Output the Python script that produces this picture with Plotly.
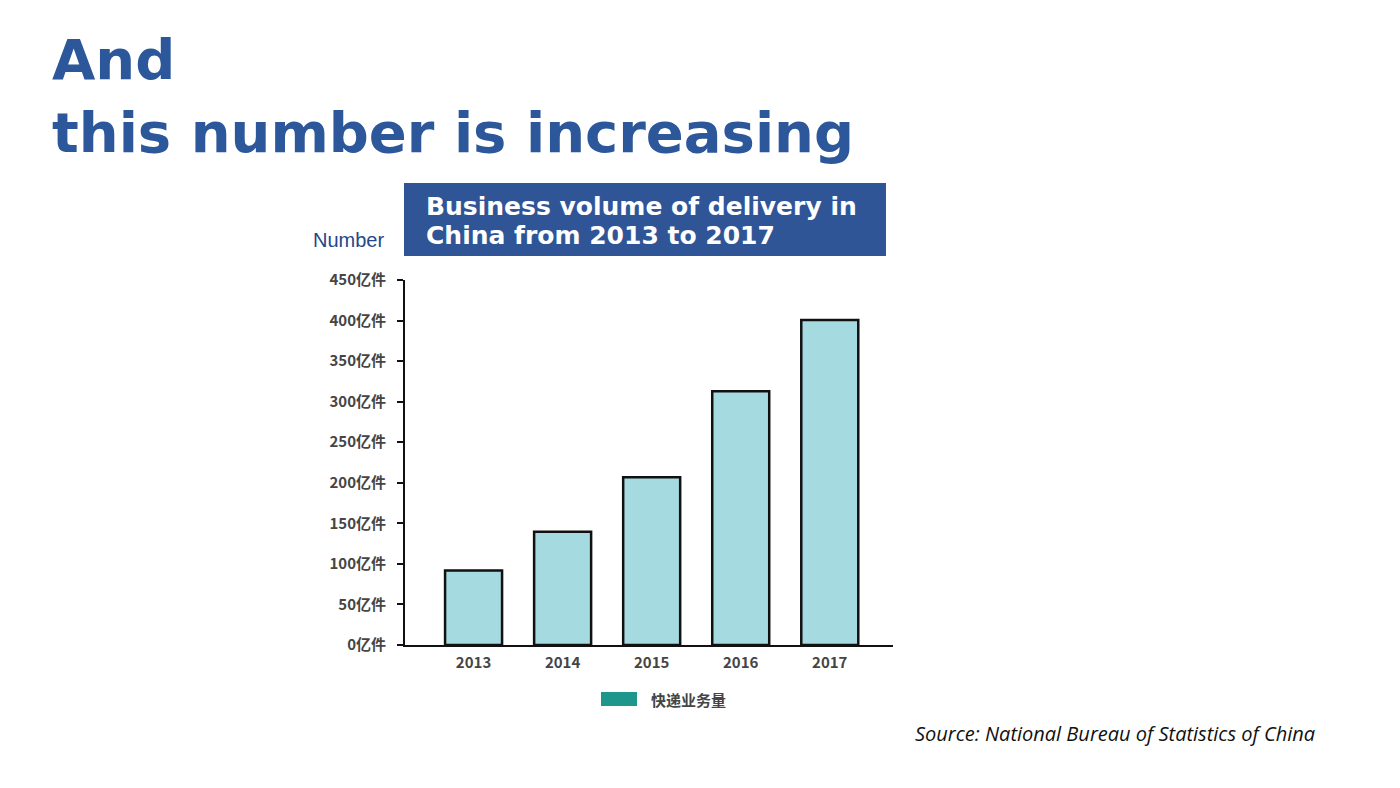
import plotly.graph_objects as go

years = [2013, 2014, 2015, 2016, 2017]
volume = [91.9, 139.6, 206.7, 312.8, 400.6]
ytick_vals = [0, 50, 100, 150, 200, 250, 300, 350, 400, 450]
ytick_text = [f"{v}亿件" for v in ytick_vals]
series_name = "快递业务量"
headline = ["And", "this number is increasing"]
box_title = ["Business volume of delivery in", "China from 2013 to 2017"]
y_title = "Number"
source = "Source: National Bureau of Statistics of China"

W, H = 1400, 788
OFF = 8  # page body margin
def px(x): return (x - OFF) / W
def py(y): return 1 - (y - OFF) / H

fig = go.Figure()
fig.add_trace(go.Bar(
    x=years, y=volume, name=series_name, width=0.64,
    marker=dict(color="#a6dae1", line=dict(color="#111111", width=2.5)),
    showlegend=False,
))

tickfont = dict(family="Noto Sans CJK SC", size=15, color="#454545", weight="bold")
fig.update_layout(
    template="none",
    width=W, height=H, margin=dict(l=0, r=0, t=0, b=0, pad=0, autoexpand=False),
    paper_bgcolor="white", plot_bgcolor="white",
    showlegend=False,
    xaxis=dict(domain=[px(405), px(893)], range=[2012.23, 2017.71],
               tickvals=years, ticktext=[str(y) for y in years],
               showline=True, linecolor="#111111", linewidth=2,
               ticks="", showgrid=False, zeroline=False, tickfont=tickfont,
               ticklabelstandoff=3, automargin=False),
    yaxis=dict(domain=[py(645), py(280)], range=[0, 450],
               tickvals=ytick_vals, ticktext=ytick_text,
               showline=True, linecolor="#111111", linewidth=2,
               ticks="outside", ticklen=6, tickwidth=1.5, tickcolor="#111111",
               showgrid=False, zeroline=False, tickfont=tickfont,
               ticklabelstandoff=8, automargin=False),
)

shapes = [
    dict(type="rect", xref="paper", yref="paper", x0=px(404), x1=px(886), y0=py(256), y1=py(183),
         fillcolor="#2f5597", line=dict(width=0), layer="above"),
    dict(type="rect", xref="paper", yref="paper", x0=px(601), x1=px(637), y0=py(706), y1=py(692),
         fillcolor="#1f968b", line=dict(width=0)),
]
fig.update_layout(shapes=shapes)

title_font = dict(family="DejaVu Sans", size=56, color="#2c579a", weight="bold")
box_font = dict(family="DejaVu Sans", size=25, color="white", weight="bold")
ann = [
    dict(text=headline[0], x=px(50), y=py(60), xanchor="left", yanchor="middle",
         font=title_font),
    dict(text=headline[1], x=px(50), y=py(132), xanchor="left", yanchor="middle",
         font=title_font),
    dict(text=box_title[0], x=px(424), y=py(206), xanchor="left", yanchor="middle",
         font=box_font),
    dict(text=box_title[1], x=px(424), y=py(236), xanchor="left", yanchor="middle",
         font=box_font),
    dict(text=y_title, x=px(386), y=py(240), xanchor="right", yanchor="middle",
         font=dict(family="Liberation Sans", size=20, color="#24478a")),
    dict(text=series_name, x=px(649), y=py(699), xanchor="left", yanchor="middle",
         font=dict(family="Noto Sans CJK SC", size=15, color="#454545", weight="bold")),
    dict(text=f"<i>{source}</i>", x=px(1317), y=py(733), xanchor="right", yanchor="middle",
         font=dict(family="Open Sans", size=20, color="#111111")),
]
for a in ann:
    a.update(xref="paper", yref="paper", showarrow=False)
fig.update_layout(annotations=ann)

fig.write_html("out.html")
